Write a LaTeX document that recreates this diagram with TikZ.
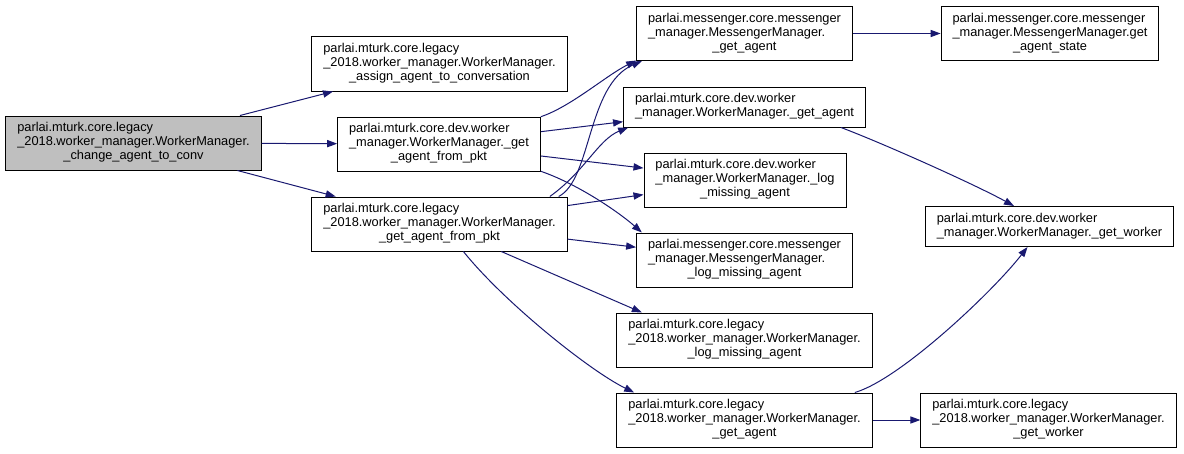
\documentclass[tikz,border=0pt]{standalone}
\usepackage{fontspec}
\setmainfont{Liberation Sans}
\usetikzlibrary{arrows.meta}

\definecolor{callblue}{HTML}{191970}

\newcommand{\fnname}[3]{\begin{tabular}{@{}l@{}}#1\\#2\\\multicolumn{1}{@{}c@{}}{#3}\end{tabular}}
\newcommand{\fnnameii}[2]{\begin{tabular}{@{}l@{}}#1\\\multicolumn{1}{@{}c@{}}{#2}\end{tabular}}

\tikzset{
    fn/.style={draw=black, line width=0.75pt, fill=white, inner xsep=8.6pt, inner ysep=4.5pt,
        font=\fontsize{9.6}{10.5}\selectfont},
    root/.style={fn, fill=gray!50},
    call/.style={draw=callblue, line width=0.75pt, -{Triangle[length=7.5pt,width=5.4pt]}}
}

\begin{document}
\begin{tikzpicture}[x=0.75pt, y=-0.75pt]
    \useasboundingbox (0,0) rectangle (1184,453);

    \node[root] (change) at (133.5,143) {\fnname{parlai.mturk.core.legacy}{\_2018.worker\_manager.WorkerManager.}{\_change\_agent\_to\_conv}};

    \node[fn] (assign) at (439.5,64) {\fnname{parlai.mturk.core.legacy}{\_2018.worker\_manager.WorkerManager.}{\_assign\_agent\_to\_conversation}};
    \node[fn] (devpkt) at (439,144) {\fnname{parlai.mturk.core.dev.worker}{\_manager.WorkerManager.\_get}{\_agent\_from\_pkt}};
    \node[fn] (legpkt) at (439.5,224) {\fnname{parlai.mturk.core.legacy}{\_2018.worker\_manager.WorkerManager.}{\_get\_agent\_from\_pkt}};

    \node[fn] (msgget) at (744.5,33.5) {\fnname{parlai.messenger.core.messenger}{\_manager.MessengerManager.}{\_get\_agent}};
    \node[fn] (devget) at (744.5,107) {\fnnameii{parlai.mturk.core.dev.worker}{\_manager.WorkerManager.\_get\_agent}};
    \node[fn] (devlog) at (745,180) {\fnname{parlai.mturk.core.dev.worker}{\_manager.WorkerManager.\_log}{\_missing\_agent}};
    \node[fn] (msglog) at (744.5,260) {\fnname{parlai.messenger.core.messenger}{\_manager.MessengerManager.}{\_log\_missing\_agent}};
    \node[fn] (leglog) at (744.5,340) {\fnname{parlai.mturk.core.legacy}{\_2018.worker\_manager.WorkerManager.}{\_log\_missing\_agent}};
    \node[fn] (legget) at (744.5,420) {\fnname{parlai.mturk.core.legacy}{\_2018.worker\_manager.WorkerManager.}{\_get\_agent}};

    \node[fn] (msgstate) at (1050,33.5) {\fnname{parlai.messenger.core.messenger}{\_manager.MessengerManager.get}{\_agent\_state}};
    \node[fn] (devworker) at (1049.5,226.5) {\fnnameii{parlai.mturk.core.dev.worker}{\_manager.WorkerManager.\_get\_worker}};
    \node[fn] (legworker) at (1048.5,420) {\fnname{parlai.mturk.core.legacy}{\_2018.worker\_manager.WorkerManager.}{\_get\_worker}};

    \draw[call] (change) -- (assign);
    \draw[call] (change) -- (devpkt);
    \draw[call] (change) -- (legpkt);

    \draw[call] (devpkt.15.5) .. controls +(30,-10) and +(-30,15) .. (msgget.194.4);
    \draw[call] (devpkt) -- (devget);
    \draw[call] (devpkt) -- (devlog);
    \draw[call] (devpkt.-15.6) .. controls +(35,12) and +(-25,-22) .. (msglog.165.4);

    \draw[call] (legpkt.13.5) .. controls +(33,-17) and +(-55,24) .. (msgget.195.4);
    \draw[call] (legpkt.14.6) .. controls +(35,-25) and +(-30,12) .. (devget.190.8);
    \draw[call] (legpkt) -- (devlog);
    \draw[call] (legpkt) -- (msglog);
    \draw[call] (legpkt.-24) -- (leglog.165);
    \draw[call] (legpkt.-49) .. controls +(40,50) and +(-45,-22) .. (legget.166);

    \draw[call] (msgget) -- (msgstate);
    \draw[call] (devget.-12.9) .. controls +(40,15) and +(-40,-22) .. (devworker.150.5);
    \draw[call] (legget.14.8) .. controls +(45,-13) and +(-35,45) .. (devworker.-137.8);
    \draw[call] (legget) -- (legworker);

\end{tikzpicture}
\end{document}
